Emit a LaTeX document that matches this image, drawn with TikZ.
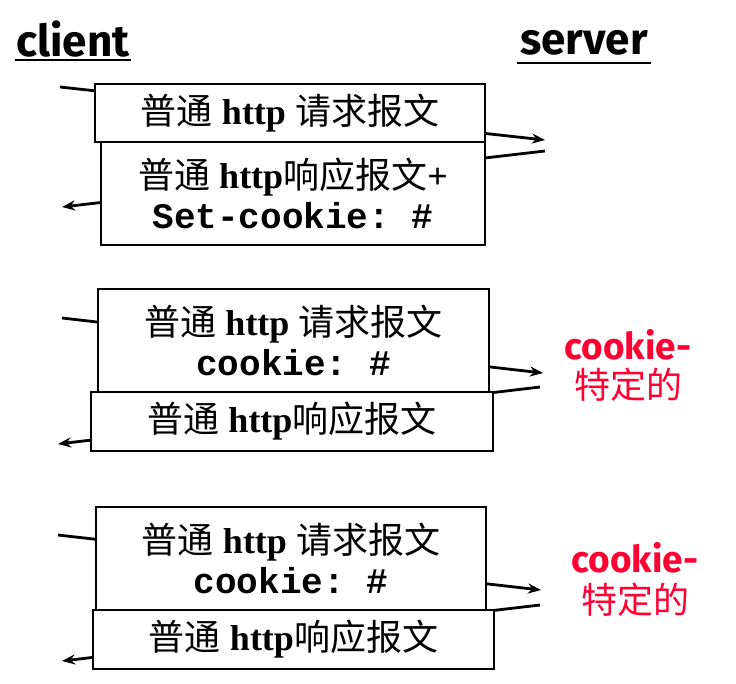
\documentclass[tikz,border=0pt]{standalone}
\usepackage{fontspec}
\setmainfont{Liberation Serif}
\setmonofont{Liberation Mono}
\newfontfamily\cjk{Noto Sans CJK SC}
\newfontfamily\comic{Fira Sans}
\usetikzlibrary{arrows.meta}
\definecolor{cred}{HTML}{FF0033}
\tikzset{
  msgbox/.style={draw=black, line width=2pt, fill=white, inner sep=0pt, align=center,
    font=\fontsize{36}{42}\selectfont},
  msgline/.style={line width=2.8pt, -{Stealth[length=13pt,width=10pt]}},
  head/.style={font=\comic\bfseries\fontsize{44}{48}\selectfont, inner sep=0pt},
  redlabel/.style={text=cred, align=center, inner sep=0pt},
}
\newcommand{\req}{{\cjk 普通} \textbf{http} {\cjk 请求报文}}
\newcommand{\resp}{{\cjk 普通} \textbf{http}{\cjk 响应报文}}
\newcommand{\ck}[1]{{\ttfamily\bfseries\fontsize{36}{42}\selectfont #1}}
\begin{document}
\begin{tikzpicture}[x=1pt,y=-1pt]
\useasboundingbox (0,0) rectangle (736,683);
% headers
\node[head] (client) at (73,39) {client};
\draw[line width=2.2pt] (15,60) -- (131,60);
\node[head] (server) at (584,43) {server};
\draw[line width=2.2pt] (517,63) -- (651,63);

% ---- block 1
\coordinate (a1s) at (60,87);
\coordinate (a1e) at (545,140);
\coordinate (b1s) at (545,151);
\coordinate (b1e) at (62,207);
\draw[msgline] (a1s) -- (a1e);
\draw[msgline] (b1s) -- (b1e);
\node[msgbox, minimum width=390pt, minimum height=58pt] (q1) at (290,113) {\req};
\node[msgbox, minimum width=384pt, minimum height=103pt] (p1) at (293,193.5)
  {\resp\textbf{+}\\[-2pt]\ck{Set-cookie: \#}};

% ---- block 2
\coordinate (a2s) at (62,318);
\coordinate (a2e) at (543,373);
\coordinate (b2s) at (540,387);
\coordinate (b2e) at (58,444);
\draw[msgline] (a2s) -- (a2e);
\draw[msgline] (b2s) -- (b2e);
\node[msgbox, minimum width=391pt, minimum height=103pt] (q2) at (293.5,340.5)
  {\req\\[-2pt]\ck{cookie: \#}};
\node[msgbox, minimum width=402pt, minimum height=59pt] (p2) at (292,421.5) {\resp};
\node[redlabel, font=\comic\bfseries\fontsize{37}{40}\selectfont] (c2a) at (628,345) {cookie-};
\node[redlabel, font=\cjk\fontsize{36}{40}\selectfont] (c2b) at (628,385) {特定的};

% ---- block 3
\coordinate (a3s) at (58,535);
\coordinate (a3e) at (541,590);
\coordinate (b3s) at (540,605);
\coordinate (b3e) at (62,661);
\draw[msgline] (a3s) -- (a3e);
\draw[msgline] (b3s) -- (b3e);
\node[msgbox, minimum width=390pt, minimum height=103pt] (q3) at (291,558.5)
  {\req\\[-2pt]\ck{cookie: \#}};
\node[msgbox, minimum width=401pt, minimum height=59pt] (p3) at (293.5,639.5) {\resp};
\node[redlabel, font=\comic\bfseries\fontsize{37}{40}\selectfont] (c3a) at (635,558) {cookie-};
\node[redlabel, font=\cjk\fontsize{36}{40}\selectfont] (c3b) at (635,600) {特定的};
\end{tikzpicture}
\end{document}
